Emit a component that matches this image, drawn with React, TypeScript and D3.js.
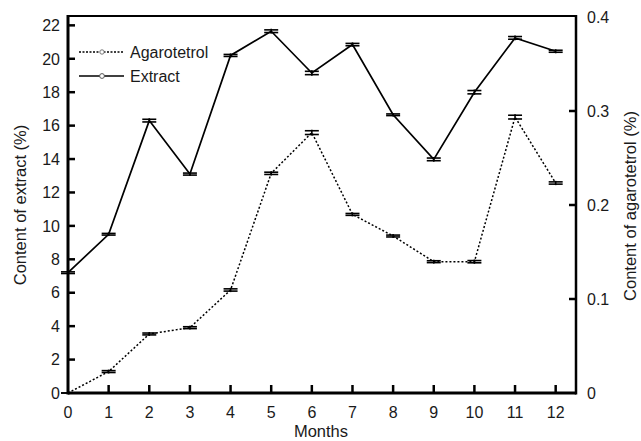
import React from "react";
import * as d3 from "d3";

const months = [0, 1, 2, 3, 4, 5, 6, 7, 8, 9, 10, 11, 12];
const extract = [7.2, 9.5, 16.3, 13.1, 20.2, 21.65, 19.15, 20.85, 16.65, 13.98, 18.0, 21.25, 20.45];
const extractErr = [0.05, 0.05, 0.08, 0.06, 0.06, 0.08, 0.1, 0.07, 0.05, 0.08, 0.1, 0.08, 0.06];
const agarotetrol = [0.0, 0.0228, 0.0628, 0.0695, 0.1096, 0.2337, 0.277, 0.19, 0.167, 0.1397, 0.1397, 0.2935, 0.2234];
const agaroErr = [0.0, 0.001, 0.001, 0.001, 0.0012, 0.0012, 0.002, 0.001, 0.001, 0.001, 0.0012, 0.002, 0.0012];
const xTicks = [0, 1, 2, 3, 4, 5, 6, 7, 8, 9, 10, 11, 12];
const leftTicks = [0, 2, 4, 6, 8, 10, 12, 14, 16, 18, 20, 22];
const rightTicks = [0, 0.1, 0.2, 0.3, 0.4];
const rightTickLabels = ["0", "0.1", "0.2", "0.3", "0.4"];

const W = 641;
const H = 441;
const L = 68, R = 576, T = 17, B = 393;
const FONT = "Liberation Sans, Arial, sans-serif";

export default function App() {
  const x = d3.scaleLinear().domain([0, 12.5]).range([L, R]);
  const yL = d3.scaleLinear().domain([0, 22.5]).range([B, T]);
  const yR = d3.scaleLinear().domain([0, 0.4]).range([B, T]);

  const lineE = d3.line<number>().x((_, i) => x(months[i])).y((d) => yL(d));
  const lineA = d3.line<number>().x((_, i) => x(months[i])).y((d) => yR(d));

  const cap = 7;

  const errBars = (vals: number[], errs: number[], y: d3.ScaleLinear<number, number>, key: string) =>
    vals.map((v, i) => {
      const cx = x(months[i]);
      const y1 = y(v + errs[i]);
      const y2 = y(v - errs[i]);
      return (
        <g key={key + i} stroke="#000" strokeWidth={1.6}>
          <line x1={cx} x2={cx} y1={y1 - 1} y2={y2 + 1} />
          <line x1={cx - cap} x2={cx + cap} y1={y1} y2={y1} />
          <line x1={cx - cap} x2={cx + cap} y1={y2} y2={y2} />
        </g>
      );
    });

  return (
    <svg width={W} height={H} style={{ position: "absolute", left: 0, top: 0, background: "#fff" }} fontFamily={FONT}>
      <rect x={0} y={0} width={W} height={H} fill="#fff" />
      {/* data lines */}
      <path d={lineA(agarotetrol) || ""} fill="none" stroke="#000" strokeWidth={1.5} strokeDasharray="2,2" />
      <path d={lineE(extract) || ""} fill="none" stroke="#000" strokeWidth={1.7} />
      {errBars(agarotetrol, agaroErr, yR, "a")}
      {errBars(extract, extractErr, yL, "e")}

      {/* frame */}
      <line x1={L} x2={R} y1={T - 1} y2={T - 1} stroke="#000" strokeWidth={2} />
      <line x1={L} x2={L} y1={T - 2} y2={B + 1.5} stroke="#000" strokeWidth={3} />
      <line x1={R} x2={R} y1={T - 2} y2={B + 1.5} stroke="#000" strokeWidth={2.5} />
      <line x1={L} x2={R} y1={B} y2={B} stroke="#000" strokeWidth={3} />

      {/* left ticks */}
      {leftTicks.map((t) => (
        <g key={"lt" + t}>
          {t > 0 && <line x1={L} x2={L + 7} y1={yL(t)} y2={yL(t)} stroke="#000" strokeWidth={2.5} />}
          <text x={L - 8} y={yL(t)} dy="0.36em" textAnchor="end" fontSize={16} fill="#1a1a1a">
            {t}
          </text>
        </g>
      ))}
      {/* right ticks */}
      {rightTicks.map((t, i) => (
        <g key={"rt" + t}>
          {t > 0 && t < 0.4 && <line x1={R} x2={R - 7} y1={yR(t)} y2={yR(t)} stroke="#000" strokeWidth={2.5} />}
          <text x={R + 11} y={yR(t)} dy="0.36em" textAnchor="start" fontSize={16} fill="#1a1a1a">
            {rightTickLabels[i]}
          </text>
        </g>
      ))}
      {/* bottom ticks */}
      {xTicks.map((t) => (
        <g key={"xt" + t}>
          {t > 0 && <line x1={x(t)} x2={x(t)} y1={B} y2={B - 8} stroke="#000" strokeWidth={2.5} />}
          <text x={x(t)} y={418} textAnchor="middle" fontSize={16} fill="#1a1a1a">
            {t}
          </text>
        </g>
      ))}

      {/* axis titles */}
      <text x={321} y={437} textAnchor="middle" fontSize={16.5} fill="#1a1a1a">Months</text>
      <text transform={`translate(26,${205}) rotate(-90)`} textAnchor="middle" fontSize={16.5} fill="#1a1a1a">
        Content of extract (%)
      </text>
      <text transform={`translate(636,${206}) rotate(-90)`} textAnchor="middle" fontSize={16.5} fill="#1a1a1a">
        Content of agarotetrol (%)
      </text>

      {/* legend */}
      <g>
        <line x1={79} x2={124} y1={52} y2={52} stroke="#000" strokeWidth={1.3} strokeDasharray="2,1.5" />
        <circle cx={102} cy={52} r={2.2} fill="#fff" stroke="#777" strokeWidth={1} />
        <text x={130} y={52} dy="0.36em" fontSize={16} fill="#1a1a1a">Agarotetrol</text>
        <line x1={79} x2={124} y1={76} y2={76} stroke="#000" strokeWidth={1.7} />
        <circle cx={102} cy={76} r={2.4} fill="#fff" stroke="#555" strokeWidth={1} />
        <text x={130} y={76} dy="0.36em" fontSize={16} fill="#1a1a1a">Extract</text>
      </g>
    </svg>
  );
}
